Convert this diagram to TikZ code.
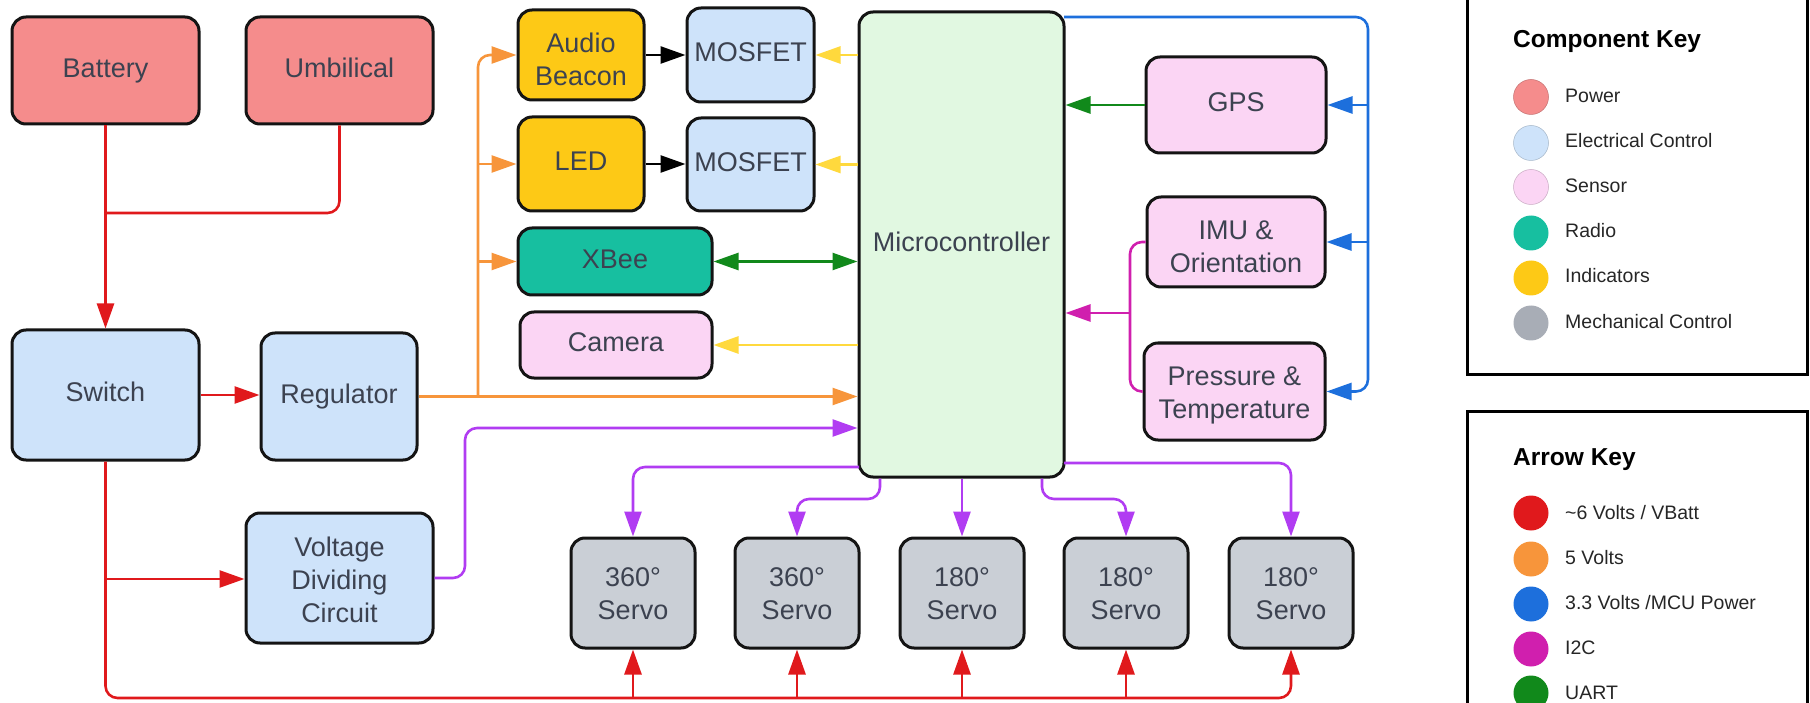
\documentclass[tikz,border=0pt]{standalone}
\usepackage{fontspec}
\setmainfont{Liberation Sans}
\usetikzlibrary{arrows.meta,calc}
\definecolor{cPow}{HTML}{F58C8C}
\definecolor{cEle}{HTML}{CEE3FA}
\definecolor{cSen}{HTML}{FBD5F4}
\definecolor{cRad}{HTML}{17BFA0}
\definecolor{cInd}{HTML}{FDC916}
\definecolor{cMec}{HTML}{CACFD6}
\definecolor{cMecK}{HTML}{A8ADB6}
\definecolor{cMcu}{HTML}{E1F8E1}
\definecolor{cTxt}{HTML}{3C4250}
\definecolor{cRed}{HTML}{E0191C}
\definecolor{cOra}{HTML}{F7953B}
\definecolor{cYel}{HTML}{FFD93D}
\definecolor{cGre}{HTML}{11891B}
\definecolor{cBlu}{HTML}{1D6FDC}
\definecolor{cMag}{HTML}{D01FAE}
\definecolor{cPur}{HTML}{B13CF2}
\begin{document}
\begin{tikzpicture}[x=1pt,y=-1pt,
  box/.style={draw=black!92, line width=3pt, rounded corners=14pt, align=center,
    text=cTxt, font=\fontsize{27}{33}\selectfont, inner sep=0pt,
    execute at begin node=\strut, execute at end node=\strut},
  mlh/.style={text height=#1, text depth=9.9pt},
  pow/.style={box, fill=cPow},
  ele/.style={box, fill=cEle},
  sen/.style={box, fill=cSen},
  rad/.style={box, fill=cRad},
  ind/.style={box, fill=cInd},
  mec/.style={box, mlh=63.7pt, fill=cMec, minimum width=124pt, minimum height=110pt},
  con/.style={line width=2.6pt, rounded corners=12pt},
  arr/.style={-{Triangle[length=25pt,width=17pt]}},
  darr/.style={{Triangle[length=25pt,width=17pt]}-{Triangle[length=25pt,width=17pt]}},
  kdot/.style={circle, minimum size=35pt, inner sep=0pt},
  ktxt/.style={anchor=west, font=\fontsize{19.5}{22}\selectfont, text=black!85, inner sep=0pt,
    text height=14pt, text depth=0pt},
  ktit/.style={anchor=west, font=\fontsize{24.5}{28}\selectfont\bfseries, text=black, inner sep=0pt,
    text height=17.5pt, text depth=0pt},
]
\useasboundingbox (0,0) rectangle (1810,703);

% nodes
\node[pow, minimum width=187pt, minimum height=107pt] (bat) at (105.5,70.5) {Battery};
\node[pow, minimum width=187pt, minimum height=107pt] (umb) at (339.5,70.5) {Umbilical};
\node[ele, minimum width=187pt, minimum height=130pt] (sw) at (105.5,395) {Switch};
\node[ele, minimum width=156pt, minimum height=127pt] (reg) at (339,396.5) {Regulator};
\node[ele, mlh=99.7pt, minimum width=187pt, minimum height=130pt] (vdc) at (339.5,578) {Voltage\\Dividing\\Circuit};
\node[ind, mlh=70.7pt, minimum width=126pt, minimum height=90pt] (ab) at (581,55) {Audio\\Beacon};
\node[ele, minimum width=127pt, minimum height=94pt] (mos1) at (750.5,55) {MOSFET};
\node[ind, minimum width=126pt, minimum height=94pt] (led) at (581,164) {LED};
\node[ele, minimum width=127pt, minimum height=93pt] (mos2) at (750.5,164.5) {MOSFET};
\node[rad, minimum width=194pt, minimum height=67pt] (xbee) at (615,261.5) {XBee};
\node[sen, minimum width=192pt, minimum height=66pt] (cam) at (616,345) {Camera};
\node[box, fill=cMcu, minimum width=205pt, minimum height=465pt] (mcu) at (961.5,244.5) {Microcontroller};
\node[sen, minimum width=180pt, minimum height=96pt] (gps) at (1236,105) {GPS};
\node[sen, mlh=70.7pt, minimum width=178pt, minimum height=90pt] (imu) at (1236,242) {IMU \&\\Orientation};
\node[sen, mlh=64.7pt, minimum width=181pt, minimum height=97pt] (prs) at (1234.5,391.5) {Pressure \&\\Temperature};
\node[mec] (s1) at (633,593) {360°\\Servo};
\node[mec] (s2) at (797,593) {360°\\Servo};
\node[mec] (s3) at (962,593) {180°\\Servo};
\node[mec] (s4) at (1126,593) {180°\\Servo};
\node[mec] (s5) at (1291,593) {180°\\Servo};

% junction coordinates
\coordinate (rj1) at (105.5,213);
\coordinate (rj2) at (105.5,579);
\coordinate (rb) at (105.5,698);
\coordinate (oj) at (478,396.5);
\coordinate (bt) at (1064,17);
\coordinate (bx) at (1368,17);
\coordinate (mx) at (1130,313);
\coordinate (px) at (465,428);
\coordinate (p1) at (859,467);
\coordinate (pm) at (880,499);
\coordinate (pn) at (1042,499);
\coordinate (p5) at (1064,463);

% red
\draw[con, cRed, arr] (bat.south) -- (sw.north);
\draw[con, cRed] (umb.south) |- (rj1);
\draw[con, cRed, arr] (sw.east) -- (sw.east -| reg.west);
\draw[con, cRed, arr] (rj2) -- (rj2 -| vdc.west);
\draw[con, cRed, arr] (sw.south) |- (s5.south |- rb) -- (s5.south);
\foreach \s in {s1,s2,s3,s4}{\draw[con, cRed, arr] (\s.south |- rb) -- (\s.south);}

% orange
\draw[con, cOra, arr] (reg.east) -- (reg.east -| mcu.west);
\draw[con, cOra, arr] (oj) |- (ab.west);
\draw[con, cOra, arr] (oj |- led.west) -- (led.west);
\draw[con, cOra, arr] (oj |- xbee.west) -- (xbee.west);

% yellow
\draw[con, cYel, arr] (mcu.west |- mos1.east) -- (mos1.east);
\draw[con, cYel, arr] (mcu.west |- mos2.east) -- (mos2.east);
\draw[con, cYel, arr] (mcu.west |- cam.east) -- (cam.east);

% black
\draw[con, black, arr] (ab.east) -- (ab.east -| mos1.west);
\draw[con, black, arr] (led.east) -- (led.east -| mos2.west);

% green
\draw[con, cGre, darr] (xbee.east) -- (xbee.east -| mcu.west);
\draw[con, cGre, arr] (gps.west) -- (gps.west -| mcu.east);

% blue
\draw[con, cBlu, arr] (bt) -| (bx |- prs.east) -- (prs.east);
\draw[con, cBlu, arr] (bx |- gps.east) -- (gps.east);
\draw[con, cBlu, arr] (bx |- imu.east) -- (imu.east);

% magenta
\draw[con, cMag] (imu.west) -| (mx) |- (prs.west);
\draw[con, cMag, arr] (mx) -- (mx -| mcu.east);

% purple
\draw[con, cPur, arr] (vdc.east) -| (px) -- (px -| mcu.west);
\draw[con, cPur, arr] (p1) -| (s1.north);
\draw[con, cPur, arr] (pm |- mcu.south) -- (pm) -| (s2.north);
\draw[con, cPur, arr] (s3.north |- mcu.south) -- (s3.north);
\draw[con, cPur, arr] (pn |- mcu.south) -- (pn) -| (s4.north);
\draw[con, cPur, arr] (p5) -| (s5.north);

% component key
\draw[line width=3pt] (1467,-10) -- (1467,374) -- (1807,374) -- (1807,-10);
\node[ktit] (kt1) at (1513,39) {Component Key};
\node[kdot, fill=cPow, draw=cPow!80!black, line width=0.5pt] (k1) at (1531,97) {};
\node[kdot, fill=cEle, draw=cEle!80!black, line width=0.5pt] (k2) at (1531,143) {};
\node[kdot, fill=cSen, draw=cSen!80!black, line width=0.5pt] (k3) at (1531,187) {};
\node[kdot, fill=cRad] (k4) at (1531,233) {};
\node[kdot, fill=cInd] (k5) at (1531,278) {};
\node[kdot, fill=cMecK] (k6) at (1531,323) {};
\node[ktxt] (kl1) at (1565,96) {Power};
\node[ktxt] (kl2) at (1565,141) {Electrical Control};
\node[ktxt] (kl3) at (1565,186) {Sensor};
\node[ktxt] (kl4) at (1565,231) {Radio};
\node[ktxt] (kl5) at (1565,276) {Indicators};
\node[ktxt] (kl6) at (1565,321) {Mechanical Control};

% arrow key
\draw[line width=3pt] (1467,720) -- (1467,411) -- (1807,411) -- (1807,720);
\node[ktit] (kt2) at (1513,457) {Arrow Key};
\node[kdot, fill=cRed] (a1) at (1531,513) {};
\node[kdot, fill=cOra] (a2) at (1531,559) {};
\node[kdot, fill=cBlu] (a3) at (1531,604) {};
\node[kdot, fill=cMag] (a4) at (1531,649) {};
\node[kdot, fill=cGre] (a5) at (1531,693) {};
\node[ktxt] (al1) at (1565,512) {\textasciitilde 6 Volts / VBatt};
\node[ktxt] (al2) at (1565,557) {5 Volts};
\node[ktxt] (al3) at (1565,602) {3.3 Volts /MCU Power};
\node[ktxt] (al4) at (1565,647) {I2C};
\node[ktxt] (al5) at (1565,692) {UART};
\end{tikzpicture}
\end{document}
